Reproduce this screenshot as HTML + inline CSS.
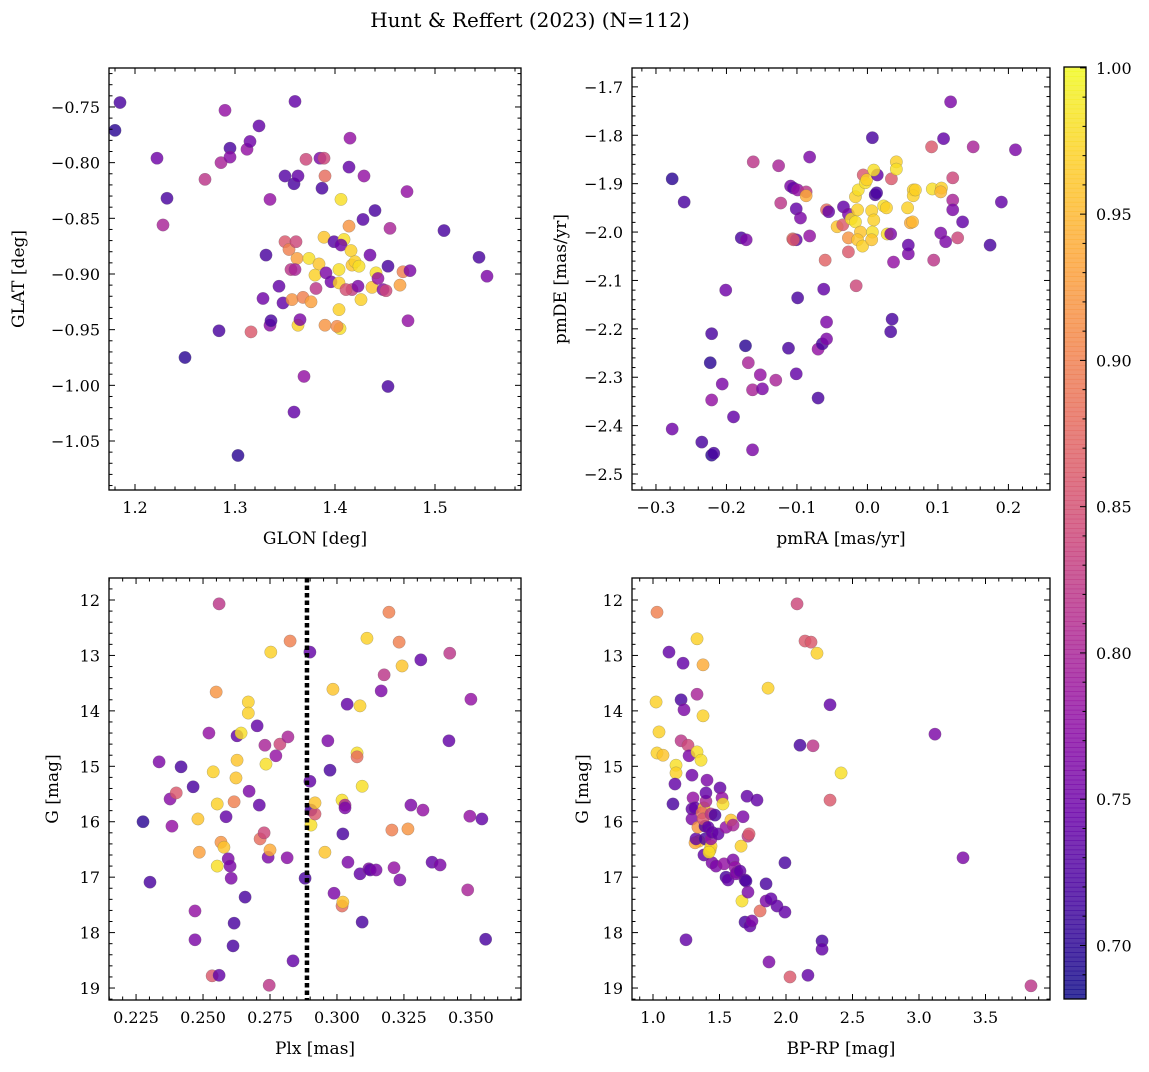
<!DOCTYPE html>
<html><head><meta charset="utf-8">
<style>
html,body{margin:0;padding:0;background:#fff;}
svg text{font-family:"DejaVu Serif","Liberation Serif",serif;fill:#000;}
</style></head>
<body>
<svg id="fig" width="1149" height="1067" viewBox="0 0 1149 1067" xmlns="http://www.w3.org/2000/svg">
<rect width="1149" height="1067" fill="#fff"/>
<text x="530" y="27" font-size="20" text-anchor="middle">Hunt &amp; Reffert (2023) (N=112)</text>
</svg>
<script>
// ---- Panel 1 data: GLON / GLAT ----
const p1Glon=[1.180,1.185,1.222,1.232,1.228,1.250,1.270,1.286,1.290,1.295,1.295,1.312,1.315,1.324,1.335,1.284,1.303,1.316,1.331,1.335,1.336,1.328,1.344,1.348,1.350,1.354,1.356,1.361,1.357,1.362,1.360,1.363,1.365,1.368,1.369,1.359,1.360,1.350,1.359,1.363,1.371,1.385,1.389,1.390,1.387,1.374,1.384,1.380,1.391,1.396,1.389,1.390,1.376,1.381,1.399,1.406,1.409,1.406,1.404,1.404,1.404,1.405,1.402,1.415,1.414,1.414,1.416,1.417,1.417,1.420,1.411,1.424,1.426,1.429,1.428,1.423,1.435,1.440,1.441,1.437,1.443,1.448,1.451,1.455,1.453,1.453,1.465,1.468,1.472,1.475,1.473,1.509,1.544,1.552];
const p1Glat=[-0.771,-0.746,-0.796,-0.832,-0.856,-0.975,-0.815,-0.800,-0.753,-0.787,-0.795,-0.788,-0.781,-0.767,-0.833,-0.951,-1.063,-0.952,-0.883,-0.946,-0.942,-0.922,-0.911,-0.926,-0.871,-0.878,-0.896,-0.871,-0.923,-0.886,-0.896,-0.946,-0.941,-0.921,-0.992,-1.024,-0.745,-0.812,-0.819,-0.812,-0.797,-0.796,-0.796,-0.812,-0.823,-0.886,-0.891,-0.901,-0.899,-0.907,-0.867,-0.946,-0.925,-0.913,-0.871,-0.833,-0.869,-0.874,-0.896,-0.908,-0.932,-0.949,-0.947,-0.778,-0.804,-0.857,-0.879,-0.892,-0.914,-0.889,-0.914,-0.893,-0.923,-0.812,-0.851,-0.911,-0.883,-0.843,-0.899,-0.912,-0.904,-0.914,-0.915,-0.859,-0.893,-1.001,-0.910,-0.898,-0.826,-0.897,-0.942,-0.861,-0.885,-0.902];
const p1Prob=[0.70,0.72,0.75,0.72,0.80,0.70,0.82,0.80,0.78,0.72,0.77,0.78,0.75,0.74,0.78,0.72,0.70,0.86,0.72,0.77,0.72,0.75,0.74,0.74,0.86,0.90,0.82,0.84,0.92,0.93,0.80,0.97,0.76,0.90,0.78,0.74,0.74,0.73,0.72,0.74,0.84,0.76,0.84,0.88,0.72,0.98,0.96,0.97,0.76,0.75,0.96,0.92,0.93,0.82,0.73,0.98,0.98,0.75,0.98,0.97,0.97,0.98,0.91,0.78,0.74,0.92,0.97,0.96,0.83,0.97,0.85,0.98,0.97,0.78,0.73,0.76,0.75,0.72,0.98,0.96,0.78,0.77,0.84,0.80,0.72,0.72,0.93,0.90,0.78,0.76,0.78,0.72,0.72,0.76];
// ---- Panel 2 data: pmRA / pmDE ----
const p2PmRA=[-0.277,-0.260,-0.277,-0.235,-0.221,-0.218,-0.221,-0.221,-0.223,-0.201,-0.206,-0.190,-0.179,-0.172,-0.173,-0.169,-0.162,-0.163,-0.163,-0.152,-0.149,-0.130,-0.126,-0.123,-0.112,-0.109,-0.105,-0.099,-0.087,-0.087,-0.106,-0.101,-0.101,-0.095,-0.101,-0.099,-0.105,-0.082,-0.082,-0.070,-0.070,-0.062,-0.064,-0.058,-0.058,-0.058,-0.060,-0.055,-0.043,-0.035,-0.034,-0.027,-0.027,-0.027,-0.023,-0.017,-0.013,-0.017,-0.014,-0.010,-0.014,-0.016,-0.007,-0.006,-0.003,-0.001,0.006,0.009,0.007,0.006,0.011,0.013,0.014,0.009,0.007,0.023,0.027,0.028,0.034,0.041,0.041,0.037,0.033,0.035,0.033,0.057,0.058,0.058,0.061,0.065,0.064,0.065,0.068,0.092,0.094,0.105,0.104,0.104,0.111,0.108,0.118,0.121,0.121,0.128,0.135,0.121,0.091,0.150,0.174,0.190,0.210];
const p2PmDE=[-1.890,-1.938,-2.407,-2.434,-2.461,-2.457,-2.347,-2.210,-2.270,-2.120,-2.314,-2.382,-2.012,-2.016,-2.235,-2.270,-1.855,-2.326,-2.450,-2.295,-2.324,-2.306,-1.863,-1.940,-2.240,-1.905,-1.909,-1.913,-1.917,-1.925,-2.014,-2.016,-1.952,-1.971,-2.293,-2.136,-2.016,-1.845,-2.008,-2.242,-2.343,-2.118,-2.231,-1.954,-2.186,-2.221,-2.058,-1.958,-1.989,-1.985,-1.948,-1.963,-2.012,-2.041,-1.973,-1.927,-1.913,-1.979,-1.954,-2.000,-2.016,-2.111,-2.029,-1.882,-1.898,-1.892,-1.956,-1.975,-2.000,-2.016,-1.923,-1.919,-1.882,-1.872,-1.805,-1.946,-1.950,-2.004,-1.890,-1.855,-1.870,-2.062,-2.004,-2.180,-2.206,-1.950,-2.045,-2.027,-1.981,-1.913,-1.979,-1.925,-1.913,-1.911,-2.058,-1.909,-1.917,-2.002,-2.020,-1.807,-1.731,-1.934,-1.954,-2.012,-1.979,-1.888,-1.824,-1.824,-2.027,-1.938,-1.830];
const p2Prob=[0.70,0.72,0.75,0.72,0.70,0.72,0.78,0.72,0.70,0.75,0.76,0.74,0.72,0.76,0.70,0.80,0.82,0.80,0.76,0.78,0.76,0.80,0.80,0.82,0.72,0.76,0.74,0.78,0.82,0.94,0.88,0.74,0.74,0.76,0.74,0.72,0.86,0.76,0.78,0.78,0.72,0.74,0.72,0.88,0.76,0.76,0.87,0.74,0.96,0.86,0.74,0.76,0.92,0.86,0.98,0.97,0.98,0.98,0.97,0.96,0.96,0.84,0.97,0.86,0.98,0.97,0.97,0.97,0.98,0.96,0.72,0.72,0.74,0.98,0.72,0.98,0.97,0.98,0.86,0.97,0.98,0.78,0.76,0.72,0.72,0.97,0.76,0.74,0.94,0.97,0.95,0.97,0.97,0.98,0.82,0.97,0.95,0.76,0.76,0.74,0.76,0.80,0.76,0.84,0.74,0.84,0.86,0.80,0.72,0.74,0.76];
// ---- Panel 3 data: Plx / G ----
const p3Plx=[0.2276,0.2302,0.2336,0.2377,0.2384,0.2400,0.2418,0.2463,0.2470,0.2470,0.2481,0.2486,0.2522,0.2538,0.2534,0.2560,0.2549,0.2553,0.2553,0.2560,0.2567,0.2578,0.2586,0.2594,0.2601,0.2605,0.2612,0.2616,0.2616,0.2623,0.2627,0.2627,0.2642,0.2657,0.2669,0.2669,0.2672,0.2702,0.2710,0.2713,0.2728,0.2735,0.2731,0.2743,0.2750,0.2747,0.2753,0.2772,0.2787,0.2814,0.2817,0.2825,0.2836,0.2881,0.2899,0.2899,0.2903,0.2903,0.2918,0.2918,0.2955,0.2985,0.2989,0.3019,0.3022,0.3019,0.3022,0.3030,0.3030,0.3038,0.3041,0.2966,0.2974,0.3075,0.3075,0.3086,0.3086,0.3094,0.3094,0.3112,0.3119,0.3124,0.3146,0.3165,0.3176,0.3194,0.3205,0.3213,0.3232,0.3243,0.3235,0.3265,0.3276,0.3313,0.3321,0.3355,0.3385,0.3418,0.3421,0.3488,0.3496,0.3500,0.3541,0.3555];
const p3G=[16.00,17.09,14.92,15.59,16.08,15.48,15.01,15.37,17.61,18.13,15.95,16.55,14.40,15.10,18.78,18.77,13.66,15.68,16.80,12.07,16.37,16.46,15.91,16.67,16.80,17.02,18.24,17.83,15.64,15.21,14.89,14.45,14.40,17.36,13.84,14.04,15.45,14.27,15.70,16.31,16.20,14.96,14.62,16.64,16.51,18.95,12.94,14.81,14.60,16.65,14.47,12.74,18.51,17.02,12.94,15.27,15.79,16.06,15.86,15.66,16.55,13.61,17.29,15.61,16.22,17.52,17.45,15.70,15.75,13.88,16.73,14.54,15.07,14.76,14.83,13.91,16.94,15.36,17.81,12.69,16.85,16.87,16.87,13.64,13.35,12.22,16.15,16.83,12.76,13.19,17.05,16.13,15.70,13.08,15.79,16.73,16.78,14.54,12.96,17.23,15.90,13.79,15.95,18.12];
const p3Prob=[0.70,0.72,0.76,0.77,0.78,0.86,0.72,0.72,0.78,0.76,0.96,0.93,0.78,0.97,0.86,0.74,0.92,0.97,0.98,0.82,0.92,0.96,0.74,0.76,0.76,0.76,0.72,0.72,0.90,0.96,0.96,0.74,0.98,0.72,0.97,0.97,0.76,0.74,0.74,0.88,0.84,0.98,0.80,0.76,0.94,0.82,0.97,0.78,0.84,0.77,0.80,0.90,0.74,0.72,0.74,0.74,0.72,0.98,0.86,0.96,0.96,0.96,0.76,0.98,0.72,0.88,0.96,0.80,0.76,0.74,0.76,0.76,0.72,0.98,0.88,0.97,0.74,0.98,0.72,0.97,0.76,0.74,0.76,0.76,0.82,0.90,0.90,0.78,0.90,0.96,0.76,0.92,0.76,0.74,0.78,0.74,0.76,0.74,0.82,0.80,0.78,0.78,0.74,0.72];
const p3Cut=[0.2888];
// ---- Panel 4 data: BP-RP / G ----
const p4Color=[1.030,1.023,1.045,1.030,1.075,1.120,1.173,1.173,1.150,1.165,1.226,1.211,1.211,1.233,1.248,1.263,1.271,1.293,1.301,1.293,1.293,1.316,1.331,1.331,1.331,1.346,1.316,1.323,1.338,1.361,1.376,1.376,1.383,1.391,1.391,1.368,1.376,1.383,1.398,1.398,1.406,1.414,1.429,1.436,1.436,1.444,1.444,1.436,1.421,1.466,1.474,1.489,1.504,1.519,1.526,1.534,1.549,1.549,1.564,1.586,1.602,1.617,1.602,1.632,1.624,1.654,1.662,1.669,1.692,1.692,1.699,1.714,1.722,1.729,1.707,1.677,1.714,1.744,1.782,1.805,1.850,1.850,1.865,1.872,1.887,1.932,1.992,1.992,2.030,2.083,2.143,2.105,2.165,2.188,2.233,2.203,2.271,2.271,2.331,2.331,2.414,3.120,3.331,3.842];
const p4G=[12.22,13.84,14.38,14.76,14.80,12.94,14.98,15.12,15.68,15.32,13.14,13.80,14.54,13.98,18.13,14.62,14.81,15.16,15.57,15.77,15.95,15.75,12.70,13.70,14.74,16.35,16.38,16.31,16.10,14.89,14.09,13.17,15.75,16.08,16.31,15.84,15.95,16.60,15.63,15.48,15.25,16.10,16.51,16.44,16.31,16.74,16.19,15.86,16.55,15.88,16.80,16.22,15.39,15.57,15.68,16.76,17.00,16.10,17.05,15.97,16.69,16.82,16.06,16.91,16.94,16.89,16.44,17.43,17.05,17.81,17.07,16.26,16.22,17.88,15.54,15.91,17.27,17.79,15.61,17.61,17.12,17.43,13.59,18.53,17.39,17.52,17.63,16.74,18.80,12.07,12.74,14.62,18.77,12.76,12.96,14.63,18.15,18.30,13.89,15.61,15.12,14.42,16.65,18.96];
const p4Prob=[0.90,0.97,0.97,0.97,0.96,0.74,0.98,0.97,0.72,0.74,0.74,0.72,0.82,0.76,0.74,0.84,0.76,0.75,0.78,0.74,0.76,0.74,0.97,0.80,0.98,0.96,0.94,0.74,0.92,0.98,0.97,0.94,0.96,0.72,0.72,0.88,0.86,0.74,0.80,0.74,0.76,0.74,0.96,0.97,0.78,0.76,0.74,0.82,0.98,0.72,0.76,0.74,0.74,0.78,0.98,0.78,0.72,0.78,0.74,0.96,0.76,0.78,0.80,0.78,0.76,0.74,0.97,0.98,0.74,0.72,0.72,0.82,0.86,0.74,0.74,0.76,0.76,0.76,0.74,0.88,0.72,0.76,0.97,0.76,0.74,0.74,0.74,0.72,0.86,0.84,0.86,0.72,0.74,0.86,0.97,0.82,0.72,0.74,0.74,0.86,0.98,0.76,0.76,0.82];
// ---- colorbar ticks ----
const cbarTicks=[0.70,0.75,0.80,0.85,0.90,0.95,1.00];

const NS='http://www.w3.org/2000/svg';
const svg=document.getElementById('fig');
function mk(tag,attrs,parent){const e=document.createElementNS(NS,tag);for(const k in attrs)e.setAttribute(k,attrs[k]);(parent||svg).appendChild(e);return e;}
const stops=[[13,8,135],[65,4,157],[106,0,168],[143,13,164],[177,42,144],[204,71,120],[225,100,98],[242,132,75],[252,166,54],[252,206,37],[240,249,33]];
function plasma(t){t=Math.max(0,Math.min(1,t));const f=t*10,i=Math.min(9,Math.floor(f)),u=f-i;const a=stops[i],b=stops[i+1];return 'rgb('+a.map((v,k)=>Math.round(v+(b[k]-v)*u)).join(',')+')';}
const cMin=0.6817,cMax=1.0003;
function cmap(v){return plasma((v-cMin)/(cMax-cMin));}
function lin(d0,d1,r0,r1){return v=>r0+(v-d0)/(d1-d0)*(r1-r0);}
function fmt(v,dec){const s=Math.abs(v).toFixed(dec);return (v<-1e-9?'\u2212':'')+s;}

function panel(o){
  const g=mk('g',{});
  
  
  const X=lin(o.xd[0],o.xd[1],o.x0,o.x1), Y=lin(o.yd[0],o.yd[1],o.y0,o.y1);
  const n=Math.min(o.xs.length,o.ys.length,o.cs.length);
  for(let i=0;i<n;i++){
    const c=mk('circle',{cx:X(o.xs[i]),cy:Y(o.ys[i]),r:6.2,fill:cmap(o.cs[i]),'fill-opacity':0.82,stroke:'#666','stroke-width':0.4,'stroke-opacity':0.6},g);
    
    
  }
  if(o.vline){for(const v of o.vline){const l=mk('line',{x1:X(v),x2:X(v),y1:o.y0,y2:o.y1,stroke:'#000','stroke-width':4.5,'stroke-dasharray':'4.5 3'},g);
    
    }}
  const fr=mk('rect',{x:o.x0,y:o.y0,width:o.x1-o.x0,height:o.y1-o.y0,fill:'none',stroke:'#000','stroke-width':1.3},g);
  
  
  const lo=(a,b)=>Math.min(a,b), hi=(a,b)=>Math.max(a,b);
  const xa=lo(o.xd[0],o.xd[1]), xb=hi(o.xd[0],o.xd[1]);
  for(let k=Math.ceil(xa/o.xmin-1e-6);k*o.xmin<=xb+1e-9;k++){
    const v=k*o.xmin, px=X(v); const major=Math.abs(v/o.xmaj-Math.round(v/o.xmaj))<1e-6; const L=major?6:3.5;
    mk('line',{x1:px,x2:px,y1:o.y1,y2:o.y1-L,stroke:'#000','stroke-width':1},g);
    mk('line',{x1:px,x2:px,y1:o.y0,y2:o.y0+L,stroke:'#000','stroke-width':1},g);
    if(major){const t=mk('text',{x:px,y:o.y1+23,'font-size':16,'text-anchor':'middle'},g);t.textContent=fmt(v,o.xdec);
      
      }
  }
  const ya=lo(o.yd[0],o.yd[1]), yb=hi(o.yd[0],o.yd[1]);
  for(let k=Math.ceil(ya/o.ymin-1e-6);k*o.ymin<=yb+1e-9;k++){
    const v=k*o.ymin, py=Y(v); const major=Math.abs(v/o.ymaj-Math.round(v/o.ymaj))<1e-6; const L=major?6:3.5;
    mk('line',{x1:o.x0,x2:o.x0+L,y1:py,y2:py,stroke:'#000','stroke-width':1},g);
    mk('line',{x1:o.x1,x2:o.x1-L,y1:py,y2:py,stroke:'#000','stroke-width':1},g);
    if(major){const t=mk('text',{x:o.x0-9,y:py+6,'font-size':16,'text-anchor':'end'},g);t.textContent=fmt(v,o.ydec);
      
      }
  }
  const xl=mk('text',{x:(o.x0+o.x1)/2,y:o.y1+54,'font-size':17,'text-anchor':'middle'},g);xl.textContent=o.xlabel;
  
  
  const yl=mk('text',{x:0,y:0,'font-size':17,'text-anchor':'middle',transform:`translate(${o.ylx},${(o.y0+o.y1)/2}) rotate(-90)`},g);yl.textContent=o.ylabel;
  
  
}

panel({name:'glon-glat-panel',x0:109,x1:521,y0:68,y1:490,xd:[1.174,1.586],yd:[-0.715,-1.094],xs:p1Glon,ys:p1Glat,cs:p1Prob,xmaj:0.1,xmin:0.02,xdec:1,ymaj:0.05,ymin:0.01,ydec:2,xlabel:'GLON [deg]',ylabel:'GLAT [deg]',ylx:24});
panel({name:'proper-motion-panel',x0:632,x1:1050,y0:68,y1:490,xd:[-0.334,0.259],yd:[-1.661,-2.533],xs:p2PmRA,ys:p2PmDE,cs:p2Prob,xmaj:0.1,xmin:0.02,xdec:1,ymaj:0.1,ymin:0.02,ydec:1,xlabel:'pmRA [mas/yr]',ylabel:'pmDE [mas/yr]',ylx:566});
panel({name:'parallax-magnitude-panel',x0:109,x1:521,y0:578,y1:1000,xd:[0.2149,0.3687],yd:[11.603,19.216],xs:p3Plx,ys:p3G,cs:p3Prob,vline:p3Cut,xmaj:0.025,xmin:0.005,xdec:3,ymaj:1,ymin:0.2,ydec:0,xlabel:'Plx [mas]',ylabel:'G [mag]',ylx:58});
panel({name:'color-magnitude-panel',x0:632,x1:1050,y0:578,y1:1000,xd:[0.842,3.985],yd:[11.603,19.216],xs:p4Color,ys:p4G,cs:p4Prob,xmaj:0.5,xmin:0.1,xdec:1,ymaj:1,ymin:0.2,ydec:0,xlabel:'BP-RP [mag]',ylabel:'G [mag]',ylx:588});

(function(){
  const g=mk('g',{});
  
  
  const x0=1064,x1=1086,y0=67,y1=999;
  const Y=lin(cMin,cMax,y1,y0);
  const N=200;
  for(let i=0;i<N;i++){const va=cMin+(cMax-cMin)*i/N, vb=cMin+(cMax-cMin)*(i+1)/N;
    mk('rect',{x:x0,y:Y(vb)-0.3,width:x1-x0,height:Y(va)-Y(vb)+0.6,fill:cmap((va+vb)/2),'fill-opacity':0.82},g);}
  mk('rect',{x:x0,y:y0,width:x1-x0,height:y1-y0,fill:'none',stroke:'#000','stroke-width':1.3},g);
  for(let k=69;k<=100;k++){const v=k/100, py=Y(v); const major=k%5===0;
    mk('line',{x1:x1,x2:x1-(major?6:3.5),y1:py,y2:py,stroke:'#000','stroke-width':1},g);}
  for(const v of cbarTicks){const t=mk('text',{x:1096,y:Y(v)+6,'font-size':16},g);t.textContent=v.toFixed(2);
    
    }
})();
</script>
</body></html>
